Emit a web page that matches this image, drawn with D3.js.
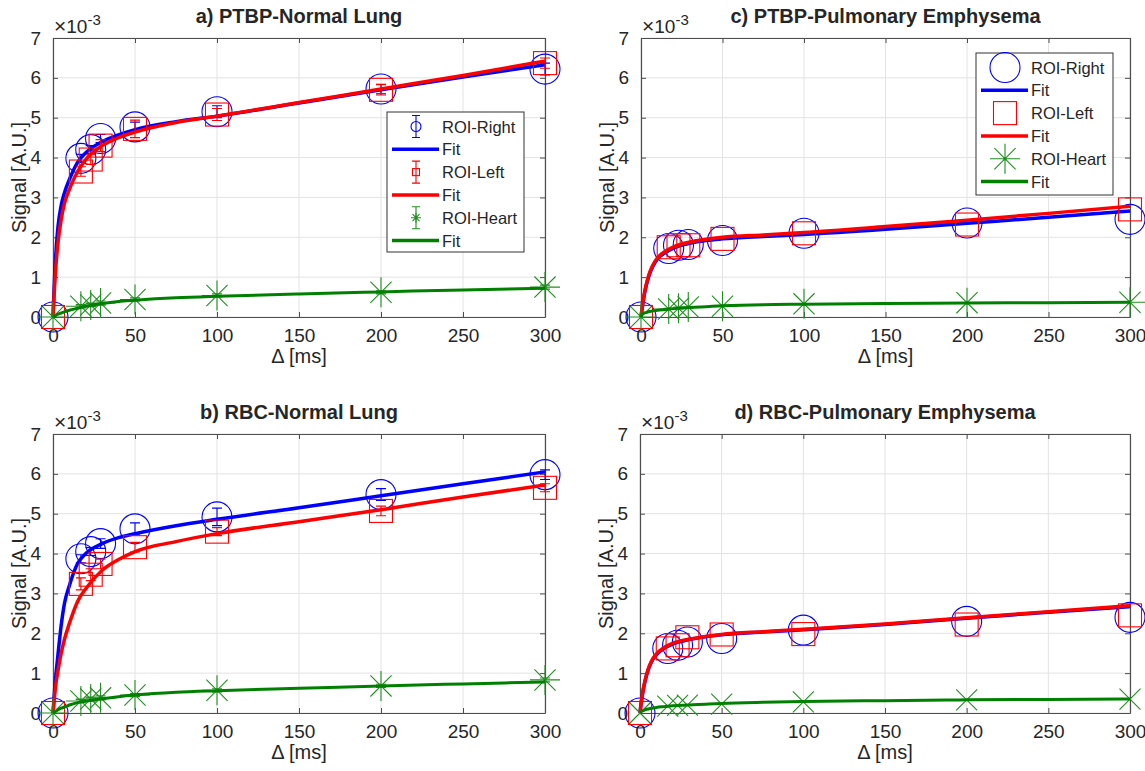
<!DOCTYPE html>
<html lang="en">
<head>
<meta charset="utf-8">
<title>Signal vs Delta</title>
<script src="https://d3js.org/d3.v7.min.js"></script>
<style>
  body { margin: 0; background: #fff; }
  svg text { font-family: "Liberation Sans", Arial, Helvetica, sans-serif; fill: #262626; }
</style>
</head>
<body>
<div id="chart"></div>
<script>
// Shared axes values
const deltaMs = [0, 17, 23, 29, 50, 100, 200, 300];
const fitDelta = [0, 1, 2, 3, 5, 7, 10, 15, 20, 30, 40, 50, 75, 100, 150, 200, 250, 300];
const xTicks = [0, 50, 100, 150, 200, 250, 300];
const yTicks = [0, 1, 2, 3, 4, 5, 6, 7];

// a) PTBP - Normal Lung (values in units of 1e-3)
const ptbpNormalRight = [0, 3.98, 4.2, 4.48, 4.77, 5.15, 5.72, 6.22];
const ptbpNormalRightErr = [0, 0.1, 0.1, 0.1, 0.12, 0.15, 0.12, 0.15];
const ptbpNormalLeft = [0, 3.65, 3.95, 4.3, 4.72, 5.08, 5.7, 6.37];
const ptbpNormalLeftErr = [0, 0.12, 0.12, 0.15, 0.22, 0.15, 0.13, 0.13];
const ptbpNormalHeart = [0, 0.27, 0.3, 0.35, 0.44, 0.54, 0.62, 0.75];
const ptbpNormalHeartErr = [0, 0.04, 0.04, 0.05, 0.04, 0.04, 0.04, 0.05];
const ptbpNormalRightFit = [0, 1.05, 1.75, 2.25, 2.8, 3.12, 3.45, 3.88, 4.12, 4.4, 4.57, 4.7, 4.9, 5.04, 5.37, 5.7, 6.02, 6.33];
const ptbpNormalLeftFit = [0, 0.8, 1.4, 1.85, 2.45, 2.85, 3.2, 3.65, 3.95, 4.3, 4.5, 4.64, 4.88, 5.04, 5.38, 5.72, 6.06, 6.42];
const ptbpNormalHeartFit = [0, 0.02, 0.05, 0.07, 0.1, 0.13, 0.17, 0.22, 0.27, 0.34, 0.39, 0.42, 0.48, 0.52, 0.58, 0.63, 0.68, 0.72];

// b) RBC - Normal Lung
const rbcNormalRight = [0, 3.87, 4.05, 4.25, 4.62, 4.92, 5.48, 5.98];
const rbcNormalRightErr = [0, 0.1, 0.1, 0.12, 0.15, 0.22, 0.15, 0.12];
const rbcNormalLeft = [0, 3.24, 3.47, 3.74, 4.16, 4.55, 5.07, 5.65];
const rbcNormalLeftErr = [0, 0.15, 0.15, 0.12, 0.12, 0.1, 0.12, 0.1];
const rbcNormalHeart = [0, 0.3, 0.35, 0.38, 0.45, 0.57, 0.68, 0.83];
const rbcNormalHeartErr = [0, 0.04, 0.05, 0.05, 0.04, 0.04, 0.04, 0.05];
const rbcNormalRightFit = [0, 0.6, 1.05, 1.45, 2.2, 2.75, 3.2, 3.75, 4.0, 4.25, 4.4, 4.5, 4.7, 4.86, 5.15, 5.45, 5.75, 6.05];
const rbcNormalLeftFit = [0, 0.45, 0.8, 1.05, 1.5, 1.85, 2.25, 2.8, 3.12, 3.58, 3.85, 4.05, 4.3, 4.5, 4.8, 5.1, 5.42, 5.72];
const rbcNormalHeartFit = [0, 0.03, 0.05, 0.08, 0.12, 0.15, 0.2, 0.26, 0.3, 0.36, 0.41, 0.45, 0.52, 0.56, 0.62, 0.68, 0.73, 0.78];

// c) PTBP - Pulmonary Emphysema
const ptbpEmphRight = [0, 1.72, 1.8, 1.82, 1.92, 2.1, 2.36, 2.45];
const ptbpEmphLeft = [0, 1.75, 1.8, 1.8, 1.96, 2.1, 2.32, 2.7];
const ptbpEmphHeart = [0, 0.2, 0.22, 0.25, 0.27, 0.33, 0.36, 0.37];
const ptbpEmphRightFit = [0, 0.3, 0.55, 0.75, 1.05, 1.25, 1.45, 1.62, 1.73, 1.85, 1.92, 1.96, 2.02, 2.07, 2.2, 2.35, 2.5, 2.66];
const ptbpEmphLeftFit = [0, 0.32, 0.58, 0.78, 1.08, 1.28, 1.48, 1.65, 1.76, 1.88, 1.95, 2.0, 2.06, 2.12, 2.27, 2.43, 2.6, 2.78];
const ptbpEmphHeartFit = [0, 0.08, 0.1, 0.11, 0.14, 0.15, 0.17, 0.19, 0.21, 0.24, 0.26, 0.28, 0.31, 0.32, 0.34, 0.35, 0.36, 0.37];

// d) RBC - Pulmonary Emphysema
const rbcEmphRight = [0, 1.62, 1.7, 1.78, 1.87, 2.08, 2.3, 2.4];
const rbcEmphLeft = [0, 1.62, 1.7, 1.9, 1.97, 1.98, 2.22, 2.45];
const rbcEmphHeart = [0, 0.17, 0.19, 0.2, 0.22, 0.28, 0.33, 0.35];
const rbcEmphRightFit = [0, 0.33, 0.58, 0.78, 1.08, 1.28, 1.46, 1.63, 1.73, 1.84, 1.91, 1.96, 2.03, 2.09, 2.22, 2.38, 2.53, 2.67];
const rbcEmphLeftFit = [0, 0.34, 0.6, 0.8, 1.1, 1.3, 1.48, 1.65, 1.75, 1.85, 1.92, 1.97, 2.04, 2.1, 2.23, 2.39, 2.54, 2.69];
const rbcEmphHeartFit = [0, 0.04, 0.06, 0.08, 0.1, 0.12, 0.14, 0.16, 0.18, 0.2, 0.22, 0.24, 0.27, 0.29, 0.31, 0.33, 0.34, 0.35];

const legendLabels = ["ROI-Right", "Fit", "ROI-Left", "Fit", "ROI-Heart", "Fit"];

const BLUE = "#0000ff", RED = "#ff0000", GREEN = "#008000", GREEN_MK = "#1f8f1f";

const panels = [
  { title: "a) PTBP-Normal Lung", left: 53, top: 38, width: 492, height: 279,
    right: ptbpNormalRight, rightErr: ptbpNormalRightErr, left_: ptbpNormalLeft, leftErr: ptbpNormalLeftErr,
    heart: ptbpNormalHeart, heartErr: ptbpNormalHeartErr,
    rightFit: ptbpNormalRightFit, leftFit: ptbpNormalLeftFit, heartFit: ptbpNormalHeartFit,
    heartMarker: "star", legend: "errorbar", legendBox: [387, 112, 137, 140] },
  { title: "c) PTBP-Pulmonary Emphysema", left: 641, top: 38, width: 489, height: 279,
    right: ptbpEmphRight, left_: ptbpEmphLeft, heart: ptbpEmphHeart,
    rightFit: ptbpEmphRightFit, leftFit: ptbpEmphLeftFit, heartFit: ptbpEmphHeartFit,
    heartMarker: "star", legend: "marker", legendBox: [976, 53, 137, 142] },
  { title: "b) RBC-Normal Lung", left: 53, top: 434, width: 492, height: 279,
    right: rbcNormalRight, rightErr: rbcNormalRightErr, left_: rbcNormalLeft, leftErr: rbcNormalLeftErr,
    heart: rbcNormalHeart, heartErr: rbcNormalHeartErr,
    rightFit: rbcNormalRightFit, leftFit: rbcNormalLeftFit, heartFit: rbcNormalHeartFit,
    heartMarker: "star", legend: null },
  { title: "d) RBC-Pulmonary Emphysema", left: 640, top: 434, width: 490, height: 279,
    right: rbcEmphRight, left_: rbcEmphLeft, heart: rbcEmphHeart,
    rightFit: rbcEmphRightFit, leftFit: rbcEmphLeftFit, heartFit: rbcEmphHeartFit,
    heartMarker: "x", legend: null }
];

const svg = d3.select("#chart").append("svg")
  .attr("width", 1145).attr("height", 771);

// marker path builders
function starPath(h) {
  const d = h * 0.707;
  return `M0,${-h}V${h}M${-h},0H${h}M${-d},${-d}L${d},${d}M${-d},${d}L${d},${-d}`;
}
function xPath(h) {
  return `M${-h},${-h}L${h},${h}M${-h},${h}L${h},${-h}`;
}

function drawMarker(g, type, cx, cy, size) {
  if (type === "circle") {
    g.append("circle").attr("cx", cx).attr("cy", cy).attr("r", size)
      .attr("fill", "none").attr("stroke", BLUE).attr("stroke-width", 1.1);
  } else if (type === "square") {
    g.append("rect").attr("x", cx - size).attr("y", cy - size)
      .attr("width", size * 2).attr("height", size * 2)
      .attr("fill", "none").attr("stroke", RED).attr("stroke-width", 1.1);
  } else {
    g.append("path").attr("transform", `translate(${cx},${cy})`)
      .attr("d", type === "star" ? starPath(size) : xPath(size))
      .attr("fill", "none").attr("stroke", GREEN_MK).attr("stroke-width", 1.1);
  }
}

function drawErrorBar(g, cx, y0, y1, color, cap) {
  g.append("path")
    .attr("d", `M${cx},${y0}V${y1}M${cx - cap},${y0}H${cx + cap}M${cx - cap},${y1}H${cx + cap}`)
    .attr("stroke", color).attr("stroke-width", 1.1).attr("fill", "none");
}

panels.forEach(function (p) {
  const x = d3.scaleLinear().domain([0, 300]).range([p.left, p.left + p.width]);
  const y = d3.scaleLinear().domain([0, 7]).range([p.top + p.height, p.top]);
  const g = svg.append("g");

  // grid
  g.append("g").selectAll("line").data(xTicks).join("line")
    .attr("x1", d => x(d)).attr("x2", d => x(d))
    .attr("y1", p.top).attr("y2", p.top + p.height)
    .attr("stroke", "#e3e3e3").attr("stroke-width", 1);
  g.append("g").selectAll("line").data(yTicks).join("line")
    .attr("x1", p.left).attr("x2", p.left + p.width)
    .attr("y1", d => y(d)).attr("y2", d => y(d))
    .attr("stroke", "#e3e3e3").attr("stroke-width", 1);

  // axes (inward ticks on all sides, like a boxed MATLAB axes)
  const axColor = "#4d4d4d";
  const bottom = g.append("g").attr("transform", `translate(0,${p.top + p.height})`)
    .call(d3.axisBottom(x).tickValues(xTicks).tickSizeInner(-5).tickSizeOuter(0).tickPadding(12));
  const top = g.append("g").attr("transform", `translate(0,${p.top})`)
    .call(d3.axisTop(x).tickValues(xTicks).tickSizeInner(-5).tickSizeOuter(0).tickFormat(""));
  const leftAx = g.append("g").attr("transform", `translate(${p.left},0)`)
    .call(d3.axisLeft(y).tickValues(yTicks).tickFormat(d3.format("d"))
      .tickSizeInner(-5).tickSizeOuter(0).tickPadding(12));
  const rightAx = g.append("g").attr("transform", `translate(${p.left + p.width},0)`)
    .call(d3.axisRight(y).tickValues(yTicks).tickSizeInner(-5).tickSizeOuter(0).tickFormat(""));
  [bottom, top, leftAx, rightAx].forEach(function (a) {
    a.select(".domain").attr("stroke", axColor).attr("stroke-width", 1.2);
    a.selectAll(".tick line").attr("stroke", axColor);
    a.selectAll("text").attr("font-size", 19).attr("fill", "#262626")
      .style("font-family", "'Liberation Sans', Arial, sans-serif");
  });

  // title, labels, exponent
  g.append("text").attr("x", p.left + p.width / 2).attr("y", p.top - 15)
    .attr("text-anchor", "middle").attr("font-size", 20).attr("font-weight", "bold")
    .attr("fill", "#000").text(p.title);
  g.append("text").attr("x", p.left + p.width / 2).attr("y", p.top + p.height + 46)
    .attr("text-anchor", "middle").attr("font-size", 20).text("\u0394 [ms]");
  g.append("text")
    .attr("transform", `translate(${p.left - 27},${p.top + p.height / 2}) rotate(-90)`)
    .attr("text-anchor", "middle").attr("font-size", 20).text("Signal [A.U.]");
  const ex = g.append("text").attr("x", p.left + 1).attr("y", p.top - 5);
  ex.append("tspan").attr("font-size", 21).text("\u00d7");
  ex.append("tspan").attr("font-size", 19).text("10");
  ex.append("tspan").attr("dy", -8).attr("font-size", 15).text("-3");

  const line = d3.line().x((d, i) => x(fitDelta[i])).y(d => y(d)).curve(d3.curveMonotoneX);

  const series = [
    { vals: p.right, err: p.rightErr, fit: p.rightFit, marker: "circle", size: 15, color: BLUE },
    { vals: p.left_, err: p.leftErr, fit: p.leftFit, marker: "square", size: 11.5, color: RED },
    { vals: p.heart, err: p.heartErr, fit: p.heartFit, marker: p.heartMarker, size: p.heartMarker === "x" ? 10.5 : 15, color: GREEN_MK }
  ];

  series.forEach(function (s, k) {
    const mg = g.append("g");
    s.vals.forEach(function (v, i) {
      drawMarker(mg, s.marker, x(deltaMs[i]), y(v), s.size);
      if (s.err && s.err[i] > 0) {
        drawErrorBar(mg, x(deltaMs[i]), y(v - s.err[i]), y(v + s.err[i]), s.color, 5);
      }
    });
    g.append("path").datum(s.fit).attr("d", line)
      .attr("fill", "none")
      .attr("stroke", k === 0 ? BLUE : k === 1 ? RED : GREEN)
      .attr("stroke-width", k === 2 ? 3 : 3.5)
      .attr("stroke-linejoin", "round");
  });

  // legend
  if (p.legend) {
    const [lx, ly, lw, lh] = p.legendBox;
    const lg = svg.append("g");
    lg.append("rect").attr("x", lx).attr("y", ly).attr("width", lw).attr("height", lh)
      .attr("fill", "#fff").attr("stroke", "#333").attr("stroke-width", 1);
    const symX = lx + 29;
    legendLabels.forEach(function (lab, i) {
      const cy = ly + 14.5 + 22.8 * i;
      const color = [BLUE, BLUE, RED, RED, GREEN, GREEN][i];
      if (i % 2 === 1) {
        lg.append("line").attr("x1", lx + 5).attr("x2", lx + 52)
          .attr("y1", cy).attr("y2", cy).attr("stroke", color).attr("stroke-width", 3.5);
      } else {
        const type = i === 0 ? "circle" : i === 2 ? "square" : p.heartMarker;
        if (p.legend === "errorbar") {
          const sz = type === "circle" ? 5 : type === "square" ? 3.5 : 5;
          drawMarker(lg, type, symX, cy, sz);
          drawErrorBar(lg, symX, cy - 11, cy + 11, type === "star" ? GREEN_MK : color, 4);
        } else {
          const sz = type === "circle" ? 15 : type === "square" ? 11.5 : 15;
          drawMarker(lg, type, symX, cy, sz);
          if (type === "star") lg.append("circle").attr("cx", symX).attr("cy", cy).attr("r", 1.5).attr("fill", GREEN_MK);
        }
      }
      lg.append("text").attr("x", lx + 55).attr("y", cy + 6).attr("font-size", 16.5)
        .attr("fill", "#000").text(lab);
    });
  }
});
</script>
</body>
</html>
